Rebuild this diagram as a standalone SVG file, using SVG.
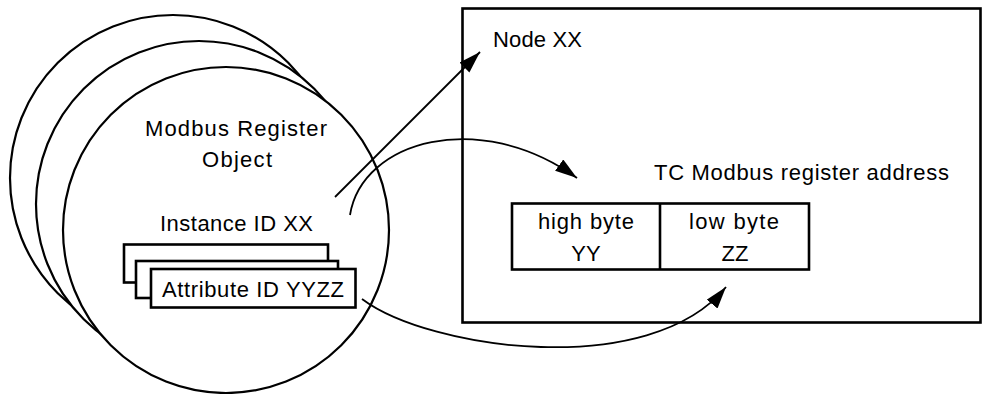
<svg xmlns="http://www.w3.org/2000/svg" width="991" height="394" viewBox="0 0 991 394">
<style>
.c{fill:#fff;stroke:#000;stroke-width:2.2}
.b{fill:#fff;stroke:#000;stroke-width:2.6}
.t{font-family:"Liberation Sans",Arial,sans-serif;font-size:22px;fill:#000}
.m{text-anchor:middle}
.l{fill:none;stroke:#000;stroke-width:1.8}
</style>
<defs>
<marker id="ah" markerUnits="userSpaceOnUse" markerWidth="24" markerHeight="16" refX="22" refY="7" orient="auto">
<path d="M0,0 L22,7 L0,14 Z" fill="#000"/>
</marker>
</defs>
<rect width="991" height="394" fill="#fff"/>
<g id="node-xx">
<rect class="b" x="462.5" y="8.5" width="518" height="314"/>
<text class="t" x="493" y="47" textLength="89">Node XX</text>
</g>
<g id="tc-register">
<text class="t" x="654" y="180" textLength="295">TC Modbus register address</text>
<rect class="b" x="512" y="203.5" width="297" height="66"/>
<line x1="660" y1="203.5" x2="660" y2="269.5" stroke="#000" stroke-width="2.6"/>
<text class="t" x="538" y="229" textLength="96">high byte</text>
<text class="t m" x="586" y="261">YY</text>
<text class="t" x="689" y="229" textLength="90">low byte</text>
<text class="t m" x="735" y="261">ZZ</text>
</g>
<g id="modbus-register-object">
<circle class="c" cx="173" cy="178" r="163"/>
<circle class="c" cx="199" cy="204" r="163"/>
<circle class="c" cx="226" cy="230" r="163"/>
<text class="t" x="145" y="135.5" textLength="182">Modbus Register</text>
<text class="t" x="202" y="167" textLength="70">Object</text>
<text class="t" x="160" y="231" textLength="153">Instance ID XX</text>
</g>
<g id="attribute-id">
<rect class="b" x="124" y="244.5" width="204" height="38"/>
<rect class="b" x="136" y="261" width="202" height="37"/>
<rect class="b" x="151" y="269" width="204.5" height="38.5"/>
<text class="t" x="162" y="297" textLength="182">Attribute ID YYZZ</text>
</g>
<g id="connectors">
<line class="l" x1="335" y1="197" x2="480" y2="52" marker-end="url(#ah)"/>
<path class="l" d="M350,215 C362,140 480,108 577,178" marker-end="url(#ah)"/>
<path class="l" d="M362,299 C430,350 650,380 726,287" marker-end="url(#ah)"/>
</g>
</svg>
